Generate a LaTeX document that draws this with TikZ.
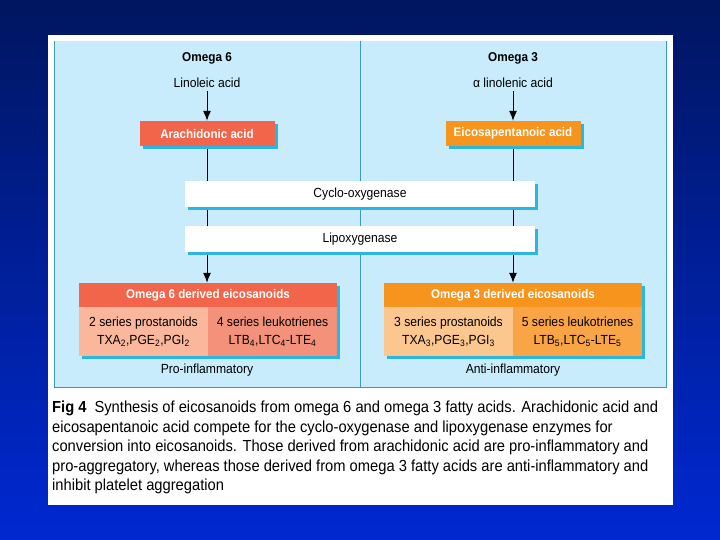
\documentclass[tikz,border=0pt]{standalone}
\usepackage{fontspec}
\setmainfont[FakeStretch=0.92]{Liberation Sans}
\usetikzlibrary{positioning,arrows.meta,shadows}

\definecolor{panelblue}{HTML}{C8ECFC}
\definecolor{edgeteal}{HTML}{3A9DB5}
\definecolor{shadowcyan}{HTML}{2BB5E3}
\definecolor{acidred}{HTML}{F2654A}
\definecolor{acidorange}{HTML}{F7941E}
\definecolor{cellred}{HTML}{FAB79C}
\definecolor{cellreddark}{HTML}{F4917A}
\definecolor{cellorange}{HTML}{FCC78F}
\definecolor{cellorangedark}{HTML}{F9A545}

\pgfdeclarelayer{bg}
\pgfdeclarelayer{wires}
\pgfsetlayers{bg,wires,main}

\tikzset{
  cyanshadow/.style={drop shadow={shadow xshift=3pt,shadow yshift=-3pt,fill=shadowcyan,opacity=1}},
  title/.style={font=\fontsize{12.8}{15}\selectfont\bfseries},
  plain/.style={font=\fontsize{13.2}{16}\selectfont},
  acidbox/.style={cyanshadow, minimum width=135pt, minimum height=25pt, inner sep=0pt,
    text=white, font=\fontsize{12.6}{15}\selectfont\bfseries},
  enzyme/.style={cyanshadow, fill=white, minimum width=350pt, minimum height=26pt, inner sep=0pt,
    font=\fontsize{13.2}{16}\selectfont},
  header/.style={cyanshadow, minimum width=258pt, minimum height=24pt, inner sep=0pt,
    text=white, font=\fontsize{12.6}{15}\selectfont\bfseries},
  cell/.style={cyanshadow, minimum width=129pt, minimum height=49pt, inner sep=0pt, align=center,
    font=\fontsize{13.2}{18}\selectfont},
  link/.style={-{Latex[length=10pt,width=8pt]}, line width=1pt}
}

\begin{document}
\begin{tikzpicture}[x=1pt,y=-1pt]
  \useasboundingbox (0,0) rectangle (720,540);
  % slide and figure panel
  \begin{pgfonlayer}{bg}
    \shade [top color={rgb,255:red,0;green,22;blue,96}, bottom color={rgb,255:red,0;green,40;blue,210}]
      (0,0) rectangle (720,540);
    \fill [white] (48,35) rectangle (673,505);
    \fill [panelblue] (54,41) rectangle (666,387);
    \draw [edgeteal, line width=0.8pt] (54,41) -- (54,387) -- (666,387) -- (666,41);
    \draw [edgeteal, line width=0.8pt] (360,41) -- (360,387);
  \end{pgfonlayer}

  % omega 6 side
  \node [title] (om6) at (207,58) {Omega 6};
  \node [plain] (lin) at (207,83) {Linoleic acid};
  \node [acidbox, fill=acidred] (ara) at (207,133.5) {Arachidonic acid};

  % omega 3 side
  \node [title] (om3) at (513,58) {Omega 3};
  \node [plain] (alin) at (513,83) {α linolenic acid};
  \node [acidbox, fill=acidorange] (epa) at (513,133.5) {Eicosapentanoic acid};

  % enzymes
  \node [enzyme] (cox) at (360,194.5) {Cyclo-oxygenase};
  \node [enzyme] (lox) at (360,239) {Lipoxygenase};

  % derived eicosanoids
  \node [header, fill=acidred] (hdr6) at (208,295) {Omega 6 derived eicosanoids};
  \node [cell, fill=cellred, anchor=north west] (pros6) at (hdr6.south west)
    {2 series prostanoids\\TXA\textsubscript{2},PGE\textsubscript{2},PGI\textsubscript{2}};
  \node [cell, fill=cellreddark, anchor=north east] (leuk6) at (hdr6.south east)
    {4 series leukotrienes\\LTB\textsubscript{4},LTC\textsubscript{4}-LTE\textsubscript{4}};
  \node [header, fill=acidorange] (hdr3) at (513,295) {Omega 3 derived eicosanoids};
  \node [cell, fill=cellorange, anchor=north west] (pros3) at (hdr3.south west)
    {3 series prostanoids\\TXA\textsubscript{3},PGE\textsubscript{3},PGI\textsubscript{3}};
  \node [cell, fill=cellorangedark, anchor=north east] (leuk3) at (hdr3.south east)
    {5 series leukotrienes\\LTB\textsubscript{5},LTC\textsubscript{5}-LTE\textsubscript{5}};

  \node [plain] (pro) at (207,370) {Pro-inflammatory};
  \node [plain] (anti) at (513,370) {Anti-inflammatory};

  % arrows
  \draw [link] (lin) -- (ara);
  \draw [link] (alin) -- (epa);
  \begin{pgfonlayer}{wires}
    \draw [link] (ara.south) -- (ara.south |- hdr6.north);
    \draw [link] (epa.south) -- (epa.south |- hdr3.north);
  \end{pgfonlayer}

  % caption
  \node [anchor=north west, align=left, inner sep=0pt, font=\fontsize{16}{19.5}\selectfont] (caption) at (52,401)
    {\textbf{Fig 4}\enspace Synthesis of eicosanoids from omega 6 and omega 3 fatty acids. Arachidonic acid and\\
     eicosapentanoic acid compete for the cyclo-oxygenase and lipoxygenase enzymes for\\
     conversion into eicosanoids. Those derived from arachidonic acid are pro-inflammatory and\\
     pro-aggregatory, whereas those derived from omega 3 fatty acids are anti-inflammatory and\\
     inhibit platelet aggregation};
\end{tikzpicture}
\end{document}
